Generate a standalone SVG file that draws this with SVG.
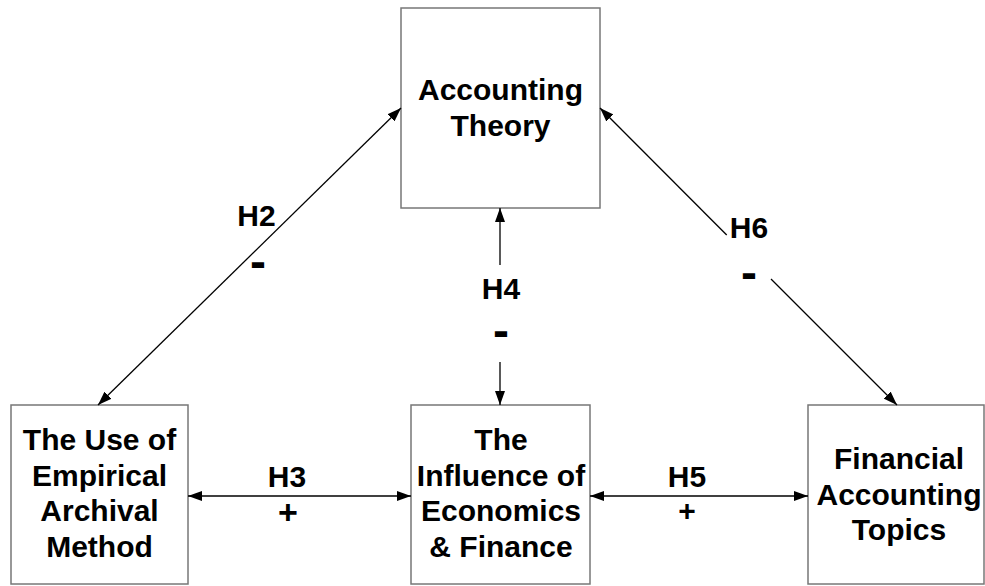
<svg xmlns="http://www.w3.org/2000/svg" width="985" height="586" viewBox="0 0 985 586">
<style>
.box{fill:#fff;stroke:#777;stroke-width:1.5}
.t{font-family:"Liberation Sans",Arial,sans-serif;font-weight:bold;font-size:30px;text-anchor:middle;fill:#000}
.l{font-family:"Liberation Sans",Arial,sans-serif;font-weight:bold;font-size:30px;text-anchor:middle;fill:#000}
.d{font-family:"Liberation Sans",Arial,sans-serif;font-weight:bold;font-size:48px;text-anchor:middle;fill:#000}
.c{fill:none;stroke:#000;stroke-width:1.3}
</style>
<defs>
<marker id="ah" markerUnits="userSpaceOnUse" markerWidth="14" markerHeight="10" refX="14" refY="5" orient="auto-start-reverse" viewBox="0 0 14 10">
<path d="M0,0 L14,5 L0,10 z" fill="#000"/>
</marker>
</defs>
<rect width="985" height="586" fill="#fff"/>
<g id="n-theory">
<rect class="box" x="401" y="8" width="199" height="200"/>
<text class="t" x="500.5" y="100">Accounting</text>
<text class="t" x="500.5" y="135.5">Theory</text>
</g>
<g id="n-empirical">
<rect class="box" x="11" y="405" width="177" height="179"/>
<text class="t" x="99.5" y="450">The Use of</text>
<text class="t" x="99.5" y="485.5">Empirical</text>
<text class="t" x="99.5" y="521">Archival</text>
<text class="t" x="99.5" y="556.5">Method</text>
</g>
<g id="n-econ">
<rect class="box" x="411" y="405" width="179" height="179"/>
<text class="t" x="501" y="450">The</text>
<text class="t" x="501" y="485.5">Influence of</text>
<text class="t" x="501" y="521">Economics</text>
<text class="t" x="501" y="556.5">&amp; Finance</text>
</g>
<g id="n-topics">
<rect class="box" x="808" y="405" width="176" height="179"/>
<text class="t" x="899" y="469">Financial</text>
<text class="t" x="899" y="504.5">Accounting</text>
<text class="t" x="899" y="540">Topics</text>
</g>
<g id="connectors">
<line class="c" x1="98" y1="405" x2="401" y2="108" marker-start="url(#ah)" marker-end="url(#ah)"/>
<line class="c" x1="726.7" y1="235" x2="600" y2="108" marker-end="url(#ah)"/>
<line class="c" x1="771" y1="279" x2="897" y2="405" marker-end="url(#ah)"/>
<line class="c" x1="500" y1="265" x2="500" y2="208" marker-end="url(#ah)"/>
<line class="c" x1="500" y1="362" x2="500" y2="405" marker-end="url(#ah)"/>
<line class="c" x1="188" y1="496" x2="411" y2="496" marker-start="url(#ah)" marker-end="url(#ah)"/>
<line class="c" x1="590" y1="496" x2="808" y2="496" marker-start="url(#ah)" marker-end="url(#ah)"/>
</g>
<g id="labels">
<text class="l" x="256.5" y="226">H2</text>
<text class="d" x="258" y="278">-</text>
<text class="l" x="501" y="299">H4</text>
<text class="d" x="501" y="347">-</text>
<text class="l" x="749" y="238">H6</text>
<text class="d" x="749" y="289">-</text>
<text class="l" x="287" y="487">H3</text>
<text class="l" x="288" y="524" style="font-size:34px">+</text>
<text class="l" x="687" y="487">H5</text>
<text class="l" x="687" y="521">+</text>
</g>
</svg>
